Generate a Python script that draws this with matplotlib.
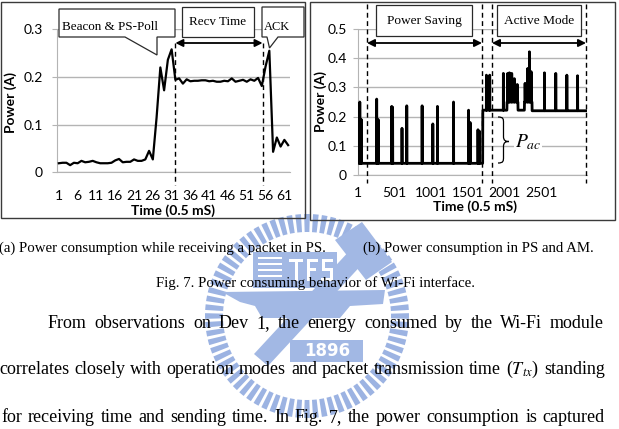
import numpy as np
import matplotlib
matplotlib.use("Agg")
import matplotlib.pyplot as plt
from matplotlib.patches import Polygon, Rectangle, PathPatch, Wedge
from matplotlib.path import Path
import matplotlib.transforms as mtransforms

plt.rcParams['mathtext.fontset'] = 'stix'

# ---------------- data ----------------
left_ticks = [1, 6, 11, 16, 21, 26, 31, 36, 41, 46, 51, 56, 61]
left_power = [0.019, 0.020, 0.020, 0.015, 0.020, 0.019, 0.024, 0.021, 0.022, 0.024,
              0.021, 0.019, 0.019, 0.019, 0.020, 0.025, 0.028, 0.021, 0.022, 0.022,
              0.027, 0.024, 0.024, 0.027, 0.045, 0.027, 0.115, 0.220, 0.172, 0.236,
              0.258, 0.194, 0.197, 0.186, 0.195, 0.191, 0.192, 0.192, 0.193, 0.193,
              0.191, 0.192, 0.190, 0.190, 0.192, 0.191, 0.197, 0.190, 0.192, 0.194,
              0.190, 0.195, 0.192, 0.198, 0.181, 0.222, 0.255, 0.043, 0.073, 0.054,
              0.068, 0.057]
left_yticks = [0, 0.1, 0.2, 0.3]
left_ytick_labels = ['0', '0.1', '0.2', '0.3']
left_marks = [32, 55.2]

right_n = 3120
right_ticks = [1, 501, 1001, 1501, 2001, 2501]
right_yticks = [0, 0.1, 0.2, 0.3, 0.4, 0.5]
right_ytick_labels = ['0', '0.1', '0.2', '0.3', '0.4', '0.5']
right_seg_start = [1, 1700, 2030, 2180, 2268, 2372]
right_seg_level = [0.040, 0.222, 0.250, 0.222, 0.250, 0.220]
right_spike_idx = [25, 45, 255, 275, 460, 472, 600, 665, 874, 1020, 1083, 1302,
                   1507, 1528, 1635, 1655,
                   1750, 1795, 1981, 2040, 2063, 2095, 2130, 2170, 2277, 2313,
                   2336, 2359, 2541, 2695, 2846, 2992]
right_spike_val = [0.250, 0.190, 0.260, 0.190, 0.235, 0.232, 0.160, 0.237, 0.237, 0.175,
                   0.235, 0.250, 0.222, 0.180, 0.155, 0.150,
                   0.342, 0.342, 0.348, 0.348, 0.350, 0.348, 0.330, 0.310, 0.314, 0.365,
                   0.422, 0.354, 0.350, 0.348, 0.342, 0.340]
right_marks = [123, 1690, 1826, 3107]

cap_a = "(a) Power consumption while receiving a packet in PS."
cap_b = "(b) Power consumption in PS and AM."
cap_fig = "Fig. 7. Power consuming behavior of Wi-Fi interface."
body = ["From observations on Dev 1, the energy consumed by the Wi-Fi module",
        "correlates closely with operation modes and packet transmission time ($T_{tx}$) standing",
        "for receiving time and sending time. In Fig. 7, the power consumption is captured"]

# ---------------- figure ----------------
W, H = 619, 429
fig = plt.figure(figsize=(W / 100, H / 100), dpi=100)
fig.patch.set_facecolor('white')
TICKF = 'Lato'
TFS = 10
LFS = 10
GRID = '#b4b4b4'

# ---- background layer for the watermark (below charts and texts) ----
bg = fig.add_axes([0, 0, 1, 1], zorder=0)
bg.set_xlim(0, W)
bg.set_ylim(H, 0)
bg.axis('off')

WM = '#a2b8e4'
RINGC = '#9cb3e2'
cx, cy = 307, 316
nb = 72
for k in range(nb):
    th = 360.0 * k / nb
    bg.add_patch(Wedge((cx, cy), 102, th - 1.6, th + 1.6, width=18, fc=RINGC, ec='none',
                       clip_on=False, zorder=3))
WMK = dict(fc=WM, ec='none', clip_on=False, zorder=3)
WHK = dict(fc='white', ec='none', clip_on=False, zorder=4)
bg.add_patch(Rectangle((253, 252), 84, 36, **WMK))
for yy in [258, 264, 270, 276]:
    bg.add_patch(Rectangle((258, yy - 0.8), 24, 1.6, **WHK))
bg.add_patch(Rectangle((289, 259), 14, 3, **WHK))
bg.add_patch(Rectangle((294.5, 259), 3, 22, **WHK))
bg.add_patch(Rectangle((307, 259), 3, 22, **WHK))
bg.add_patch(Rectangle((307, 259), 11, 3, **WHK))
bg.add_patch(Rectangle((307, 268), 9, 3, **WHK))
bg.add_patch(Polygon([(333, 259), (322, 259), (322, 271), (330, 271), (330, 278), (321, 278),
                      (321, 281), (333, 281), (333, 268), (325, 268), (325, 262), (333, 262)],
                     closed=True, **WHK))
bg.add_patch(Polygon([(222, 292), (385, 290), (383, 304), (350, 306), (340, 318),
                      (262, 318), (255, 306), (240, 302)], **WMK))
bg.add_patch(Polygon([(352, 248), (366, 260), (268, 366), (254, 354)], **WMK))
bg.add_patch(Polygon([(335, 240), (362, 222), (392, 262), (366, 280)], **WMK))
bg.add_patch(Rectangle((290, 340), 73, 22, **WMK))
bg.text(327, 351.5, '1896', color='white', fontsize=12, fontweight='bold', family='DejaVu Sans',
        ha='center', va='center', zorder=5)


def style_axes(ax):
    ax.set_facecolor('none')
    for s in ['top', 'right']:
        ax.spines[s].set_visible(False)
    ax.spines['left'].set_color(GRID)
    ax.spines['bottom'].set_color(GRID)
    ax.yaxis.grid(True, color=GRID, lw=1)
    ax.set_axisbelow(True)

# left chart
axL = fig.add_axes([57 / W, 1 - 172.3 / H, 233 / W, 143 / H], zorder=3)
style_axes(axL)
xl = np.arange(1, len(left_power) + 1)
axL.plot(xl, left_power, color='black', lw=1.6, zorder=3)
axL.set_xlim(0.5, len(left_power) + 0.5)
axL.set_ylim(0, 0.3)
axL.set_yticks(left_yticks)
axL.set_yticklabels(left_ytick_labels, family=TICKF, fontsize=TFS)
axL.set_xticks(left_ticks)
axL.set_xticklabels([str(t) for t in left_ticks], family=TICKF, fontsize=TFS)
axL.tick_params(axis='y', length=3.5, color=GRID, pad=6.5)
axL.tick_params(axis='x', length=0, pad=13)
axL.text(0.496, -0.27, 'Time (0.5 mS)', transform=axL.transAxes, ha='center', va='center',
         family=TICKF, fontweight='bold', fontsize=LFS)
axL.text(-0.197, 0.49, 'Power (A)', transform=axL.transAxes, ha='center', va='center',
         rotation=90, family=TICKF, fontweight='bold', fontsize=LFS)

# right chart
axR = fig.add_axes([358 / W, 1 - 175 / H, 229 / W, 146 / H], zorder=3)
style_axes(axR)
yr = np.empty(right_n)
for s, lev in zip(right_seg_start, right_seg_level):
    yr[s - 1:] = lev
for i, v in zip(right_spike_idx, right_spike_val):
    yr[i - 1] = v
xr = np.arange(1, right_n + 1)
axR.plot(xr, yr, color='black', lw=2.0, zorder=3)
axR.set_xlim(0.5, right_n + 0.5)
axR.set_ylim(0, 0.5)
axR.set_yticks(right_yticks)
axR.set_yticklabels(right_ytick_labels, family=TICKF, fontsize=TFS)
axR.set_xticks(right_ticks)
axR.set_xticklabels([str(t) for t in right_ticks], family=TICKF, fontsize=TFS)
axR.tick_params(axis='y', length=3.5, color=GRID, pad=4.5)
axR.tick_params(axis='x', length=0, pad=8.5)
axR.text(0.511, -0.215, 'Time (0.5 mS)', transform=axR.transAxes, ha='center', va='center',
         family=TICKF, fontweight='bold', fontsize=LFS)
axR.text(-0.162, 0.5, 'Power (A)', transform=axR.transAxes, ha='center', va='center',
         rotation=90, family=TICKF, fontweight='bold', fontsize=LFS)

# dashed markers + arrows (x in data coords, y in figure pixels from top)
def vdash(ax, x, py0, py1):
    tr = mtransforms.blended_transform_factory(ax.transData, fig.transFigure)
    ax.plot([x, x], [1 - py0 / H, 1 - py1 / H], transform=tr, color='black', lw=1,
            ls=(0, (3.5, 2.5)), clip_on=False, zorder=4)

def harrow(ax, x0, x1, py):
    ax.annotate('', xy=(x1, H - py), xytext=(x0, H - py),
                xycoords=('data', 'figure pixels'), textcoords=('data', 'figure pixels'),
                arrowprops=dict(arrowstyle='<|-|>', color='black', lw=1.3,
                                mutation_scale=11, shrinkA=0, shrinkB=0),
                annotation_clip=False, zorder=6)

for m in left_marks:
    vdash(axL, m, 43, 185)
harrow(axL, left_marks[0], left_marks[1], 43)
for m in right_marks:
    vdash(axR, m, 4, 183)
harrow(axR, right_marks[0], right_marks[1], 43)
harrow(axR, right_marks[2], right_marks[3], 43)

# ---------------- overlay (pixel coords, y down) ----------------
ov = fig.add_axes([0, 0, 1, 1], zorder=10)
ov.set_xlim(0, W)
ov.set_ylim(H, 0)
ov.axis('off')
renderer = fig.canvas.get_renderer()

def text_width(s, fs, **kw):
    t = ov.text(0, 0, s, fontsize=fs, **kw)
    w = t.get_window_extent(renderer).width
    t.remove()
    return w

def fit(s, width, **kw):
    return 10 * width / text_width(s, 10, **kw)

SERIF = 'Liberation Serif'

# frames
ov.add_patch(Rectangle((0.5, 1.5), 304, 216.5, fill=False, ec='#3a3a3a', lw=1, zorder=5))
ov.add_patch(Rectangle((309.5, 1.5), 305.5, 218.5, fill=False, ec='#3a3a3a', lw=1, zorder=5))

# callout boxes
BOX = dict(fc='white', ec='#2a2a2a', lw=0.9, zorder=7)
ov.add_patch(Polygon([(59, 9), (175, 9), (175, 37), (157, 37), (157, 55), (125, 37), (59, 37)],
                     closed=True, **BOX))
ov.add_patch(Rectangle((182, 7), 72, 30, **BOX))
ov.add_patch(Polygon([(262, 7), (304, 7), (304, 37), (278, 37), (269.5, 48), (267, 37), (262, 37)],
                     closed=True, **BOX))
ov.add_patch(Rectangle((376, 5), 96, 31, **BOX))
ov.add_patch(Rectangle((497, 5), 84, 31, **BOX))

def label(s, x0, width, yc, ha='left'):
    fs = fit(s, width, family=SERIF)
    ov.text(x0, yc, s, family=SERIF, fontsize=fs, ha=ha, va='center', zorder=8)

label('Beacon & PS-Poll', 62, 96, 27)
label('Recv Time', 218, 57, 22, ha='center')
label('ACK', 264, 26, 27)
label('Power Saving', 424, 75, 21, ha='center')
label('Active Mode', 539, 70, 21, ha='center')

# brace + P_ac
x0, xm, xt, y0, ym, y1 = 498, 503.5, 509, 117, 141.5, 163
verts = [(x0, y0), (xm, y0), (xm, y0 + 2), (xm, y0 + 6),
         (xm, ym - 5),
         (xm, ym - 1), (xm + 2, ym), (xt, ym),
         (xm + 2, ym), (xm, ym + 1), (xm, ym + 5),
         (xm, y1 - 6),
         (xm, y1 - 2), (xm, y1), (x0, y1)]
codes = [Path.MOVETO, Path.CURVE4, Path.CURVE4, Path.CURVE4, Path.LINETO,
         Path.CURVE4, Path.CURVE4, Path.CURVE4, Path.CURVE4, Path.CURVE4, Path.CURVE4,
         Path.LINETO, Path.CURVE4, Path.CURVE4, Path.CURVE4]
ov.add_patch(PathPatch(Path(verts, codes), fill=False, ec='black', lw=0.9, zorder=7))
ov.text(515, 147, '$P_{ac}$', fontsize=14, ha='left', va='baseline', zorder=8,
        bbox=dict(fc='white', ec='none', pad=0.5))

# captions
cfs = fit(cap_a, 328, family=SERIF)
ov.text(-1, 251.7, cap_a, family=SERIF, fontsize=cfs, ha='left', va='baseline', zorder=3)
ov.text(363, 251.7, cap_b, family=SERIF, fontsize=cfs, ha='left', va='baseline', zorder=3)
ov.text(156, 286.7, cap_fig, family=SERIF, fontsize=cfs, ha='left', va='baseline', zorder=3)

# justified body text
bfs = fit(body[2], 588, family=SERIF)

def justify(line, xa, xb, yb):
    words = line.split(' ')
    ws = [text_width(w, bfs, family=SERIF) for w in words]
    gap = (xb - xa - sum(ws)) / (len(words) - 1)
    x = xa
    for w, wd in zip(words, ws):
        ov.text(x, yb, w, family=SERIF, fontsize=bfs, ha='left', va='baseline', zorder=3)
        x += wd + gap

justify(body[0], 48, 604, 327.7)
justify(body[1], -1, 605, 373.5)
justify(body[2], 1, 605, 421.7)

fig.savefig('out.png', dpi=100)
